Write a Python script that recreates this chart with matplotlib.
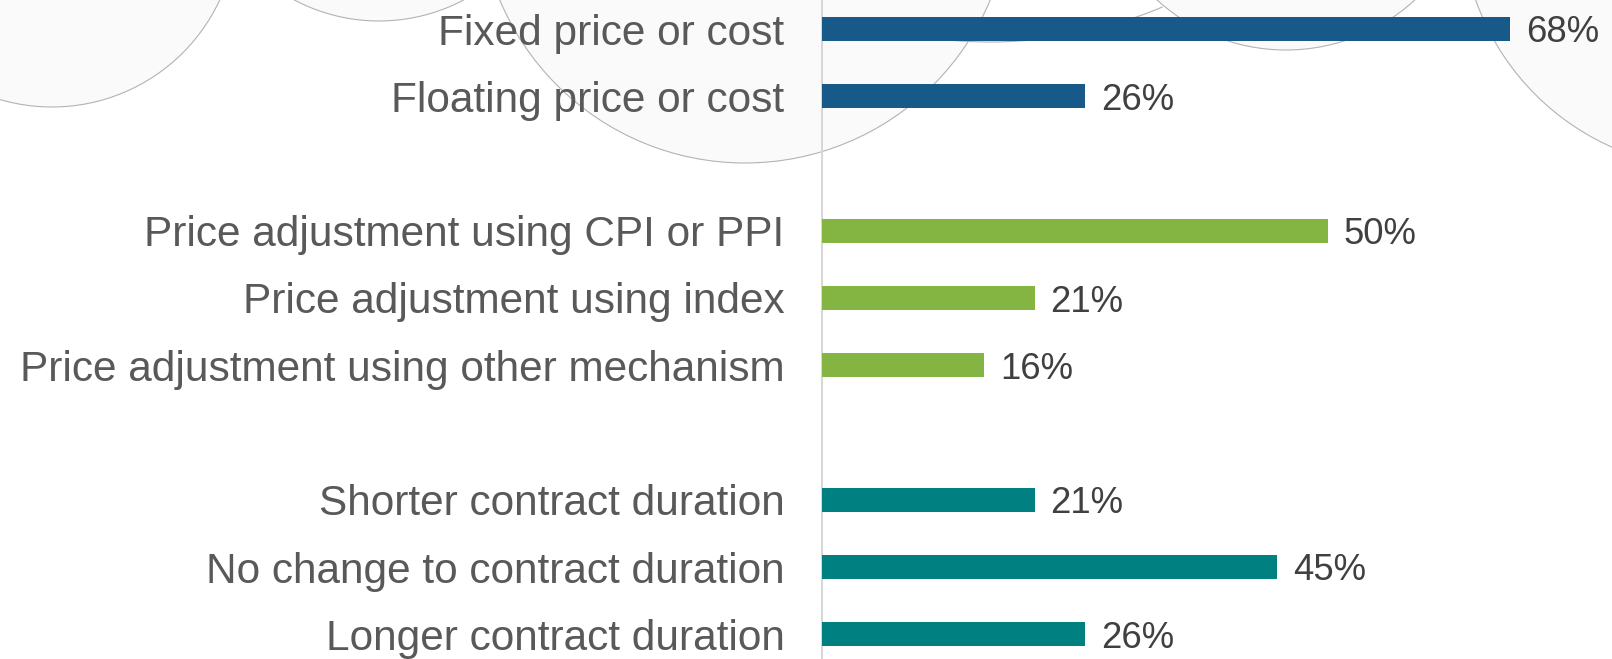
import matplotlib
matplotlib.use("Agg")
import matplotlib.pyplot as plt
from matplotlib.patches import Circle, Arc

# ---- data ----
categories = [
    "Fixed price or cost",
    "Floating price or cost",
    "Price adjustment using CPI or PPI",
    "Price adjustment using index",
    "Price adjustment using other mechanism",
    "Shorter contract duration",
    "No change to contract duration",
    "Longer contract duration",
]
values = [68, 26, 50, 21, 16, 21, 45, 26]
value_labels = ["68%", "26%", "50%", "21%", "16%", "21%", "45%", "26%"]
groups = [0, 0, 1, 1, 1, 2, 2, 2]
slots = [0, 1, 3, 4, 5, 7, 8, 9]
group_colors = ["#175A8A", "#84B441", "#008080"]

plt.rcParams["font.family"] = ["Liberation Sans", "DejaVu Sans"]

W, H, DPI = 1612, 659, 100
fig = plt.figure(figsize=(W / DPI, H / DPI), dpi=DPI)
fig.patch.set_facecolor("white")

# ---- decorative background circles (pixel coordinates) ----
bg = fig.add_axes([0, 0, 1, 1], zorder=0)
bg.set_xlim(0, W)
bg.set_ylim(H, 0)
bg.axis("off")
circles = [((52, -78), 185), ((379, -160), 181), ((745, -103), 266),
           ((1286, -141), 191), ((1715, -85), 254)]
for (cx, cy), r in circles:
    bg.add_patch(Circle((cx, cy), r, facecolor="#fafafa", edgecolor="none"))
for (cx, cy), r in circles:
    bg.add_patch(Circle((cx, cy), r, facecolor="none", edgecolor="#b3b3b3", lw=0.8))
bg.add_patch(Arc((990, -400), 884, 884, theta1=67, theta2=95, edgecolor="#b3b3b3", lw=0.8))

# ---- main chart ----
left_px = 822
px_per_unit = 10.12
ax = fig.add_axes([left_px / W, 0, (W - left_px) / W, 1], zorder=1)
ax.patch.set_alpha(0)

colors = [group_colors[g] for g in groups]
ax.barh(slots, values, height=0.35, color=colors, zorder=3)

ax.set_xlim(0, (W - left_px) / px_per_unit)
slot_px = 67.25
top_px = 29
ax.set_ylim((H - top_px) / slot_px, -top_px / slot_px)

ax.set_yticks(slots)
ax.set_yticklabels(categories, fontsize=30.5, color="#595959")
ax.tick_params(axis="y", length=0, pad=27)
ax.set_xticks([])

for s in ["top", "right", "bottom"]:
    ax.spines[s].set_visible(False)
ax.spines["left"].set_color("#d6d6d6")
ax.spines["left"].set_linewidth(1.4)

for s, v, lab in zip(slots, values, value_labels):
    ax.annotate(lab, xy=(v, s), xytext=(11.5, 0), textcoords="offset points",
                va="center_baseline", ha="left", fontsize=26.3, color="#404040")

fig.savefig("out.png", dpi=DPI, facecolor="white")
